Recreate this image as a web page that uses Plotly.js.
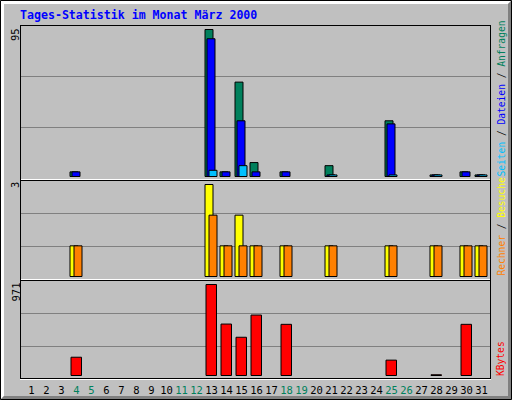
<!DOCTYPE html>
<html><head><meta charset="utf-8">
<script src="https://cdn.plot.ly/plotly-3.0.1.min.js"></script>
<style>html,body{margin:0;padding:0;background:#C0C0C0;}#chart{width:512px;height:400px;}</style>
</head><body><div id="chart"></div>
<script>
// ---- data ----
const days    = [1,2,3,4,5,6,7,8,9,10,11,12,13,14,15,16,17,18,19,20,21,22,23,24,25,26,27,28,29,30,31];
const weekend = [4,5,11,12,18,19,25,26];
const hits    = [0,0,0,3,0,0,0,0,0,0,0,0,95,3,61,9,0,3,0,0,7,0,0,0,36,0,0,1,0,3,1];
const files   = [0,0,0,3,0,0,0,0,0,0,0,0,89,3,36,3,0,3,0,0,1,0,0,0,34,0,0,1,0,3,1];
const pages   = [0,0,0,0,0,0,0,0,0,0,0,0,4,0,7,0,0,0,0,0,1,0,0,0,1,0,0,1,0,0,1];
const visits  = [0,0,0,1,0,0,0,0,0,0,0,0,3,1,2,1,0,1,0,0,1,0,0,0,1,0,0,1,0,1,1];
const sites   = [0,0,0,1,0,0,0,0,0,0,0,0,2,1,1,1,0,1,0,0,1,0,0,0,1,0,0,1,0,1,1];
const kbytes  = [0,0,0,195,0,0,0,0,0,0,0,0,971,549,408,645,0,546,0,0,0,0,0,0,164,0,0,8,0,546,0];
const titleText = 'Tages-Statistik im Monat März 2000';

// ---- colours ----
const C = {hits:'#00805C', files:'#0000FF', pages:'#00C0FF', visits:'#FFFF00', sites:'#FF8000', kbytes:'#FF0000', grey:'#C0C0C0', dk:'#808080'};
const MONO = 'DejaVu Sans Mono';
const W = 512, H = 400;
const px = x => x / W, py = y => 1 - y / H;

// panel geometry in pixels: top, bottom, zero line, pixel of max value
const panels = [
  {T:25,  B:179, Z:176.5, M:29.5,  max:Math.max(...hits)},
  {T:180, B:279, Z:276.5, M:184.5, max:Math.max(...visits)},
  {T:280, B:379, Z:375.5, M:284.5, max:Math.max(...kbytes)}
];
function yax(p) {
  const s = (p.Z - p.M) / p.max;
  const r1 = (p.Z - p.T) / s, r0 = -(p.B - p.Z) / s;
  const g1 = (p.Z - (p.T + (p.B - p.T) / 3)) / s, g2 = (p.Z - (p.T + 2 * (p.B - p.T) / 3)) / s;
  return {domain:[py(p.B), py(p.T)], range:[r0, r1], anchor:'x', tickvals:[g1, g2], showticklabels:false,
          ticks:'', showgrid:true, gridcolor:C.dk, gridwidth:1, zeroline:false, showline:false, fixedrange:true};
}

const dayOff = x => x / 15; // pixel offset -> day units
function bar(vals, color, yaxis, off, wid) {
  return {type:'bar', x:days, y:vals.map(v => v === 0 ? null : v), yaxis:yaxis, xaxis:'x', offset:dayOff(off), width:dayOff(wid),
          marker:{color:color, line:{color:'#000', width:1}}, hoverinfo:'skip', showlegend:false};
}
const traces = [
  bar(hits,   C.hits,   'y',  -6.5, 8),
  bar(files,  C.files,  'y',  -4.5, 8),
  bar(pages,  C.pages,  'y',  -2.5, 8),
  bar(visits, C.visits, 'y2', -6.5, 8),
  bar(sites,  C.sites,  'y2', -2.5, 8),
  bar(kbytes, C.kbytes, 'y3', -5.5, 10.5)
];

const ticktext = days.map(d => weekend.includes(d) ? `<span style="color:${C.hits}">${d}</span>` : String(d));

function hline(y, x0, x1, color) {
  return {type:'line', xref:'paper', yref:'paper', x0:px(x0), x1:px(x1), y0:py(y), y1:py(y), line:{color:color, width:1}};
}
function vline(x, y0, y1, color) {
  return {type:'line', xref:'paper', yref:'paper', x0:px(x), x1:px(x), y0:py(y0), y1:py(y1), line:{color:color, width:1}};
}
function poly(pts, color) {
  const d = pts.map((p, i) => (i ? 'L' : 'M') + px(p[0]) + ',' + py(p[1])).join(' ') + ' Z';
  return {type:'path', xref:'paper', yref:'paper', path:d, fillcolor:color, line:{width:0}};
}
const bw = 3;
const shapes = [
  poly([[1,1],[511,1],[511-bw,1+bw],[1+bw,1+bw],[1+bw,399-bw],[1,399]], '#FFFFFF'),
  poly([[511,1],[511,399],[1,399],[1+bw,399-bw],[511-bw,399-bw],[511-bw,1+bw]], C.dk),
  {type:'rect', xref:'paper', yref:'paper', x0:px(0.5), x1:px(511.5), y0:py(0.5), y1:py(399.5), line:{color:'#000', width:1}},
  hline(25.5, 20, 491, '#000'),
  hline(179.5, 21, 491, '#FFF'),
  hline(180.5, 20, 491, '#000'),
  hline(279.5, 21, 491, '#FFF'),
  hline(280.5, 20, 491, '#000'),
  hline(378.5, 20, 491, '#000'),
  hline(379.5, 20, 491, '#FFF'),
  vline(20.5, 25, 379, '#000'),
  vline(490.5, 25, 379, '#000')
];

const sp = (t, c) => `<span style="color:${c}">${t}</span>`;
const ann = (text, x, y, xa, ya, size) => ({text, x:px(x), y:py(y), xref:'paper', yref:'paper', xanchor:xa, yanchor:ya,
  textangle:-90, showarrow:false, borderpad:0, font:{family:MONO, size:size, color:'#000'}});
const annotations = [
  ann(String(panels[0].max), 15, 27.5, 'center', 'top', 10.5),
  ann(String(panels[1].max), 15, 181, 'center', 'top', 10.5),
  ann(String(panels[2].max), 15, 282, 'center', 'top', 10.5),
  ann(sp('Seiten', C.pages) + ' / ' + sp('Dateien', C.files) + ' / ' + sp('Anfragen', C.hits), 500.5, 178, 'center', 'bottom', 9.6),
  ann(sp('Rechner', C.sites) + ' / ' + sp('Besuche', C.visits), 500.5, 277, 'center', 'bottom', 9.6),
  ann(sp('KBytes', C.kbytes), 500.5, 377, 'center', 'bottom', 9.6)
];

const layout = {
  width:W, height:H, margin:{l:0, r:0, t:0, b:0, pad:0},
  paper_bgcolor:C.grey, plot_bgcolor:C.grey,
  barmode:'overlay', showlegend:false,
  title:{text:titleText, x:px(20), xanchor:'left', y:py(14.5), yanchor:'middle', xref:'container', yref:'container',
         font:{family:MONO, size:11.6, color:'#0000FF', weight:'bold'}},
  xaxis:{domain:[px(20), px(491)], range:[1 + (20 - 31.5) / 15, 1 + (491 - 31.5) / 15], anchor:'y3',
         tickvals:days, ticktext:ticktext, tickfont:{family:MONO, size:10.5, color:'#000'}, ticks:'',
         ticklabelstandoff:3, showgrid:false, zeroline:false, showline:false, fixedrange:true},
  yaxis:yax(panels[0]), yaxis2:yax(panels[1]), yaxis3:yax(panels[2]),
  shapes:shapes, annotations:annotations
};
Plotly.newPlot('chart', traces, layout, {staticPlot:true, displayModeBar:false});
</script></body></html>
